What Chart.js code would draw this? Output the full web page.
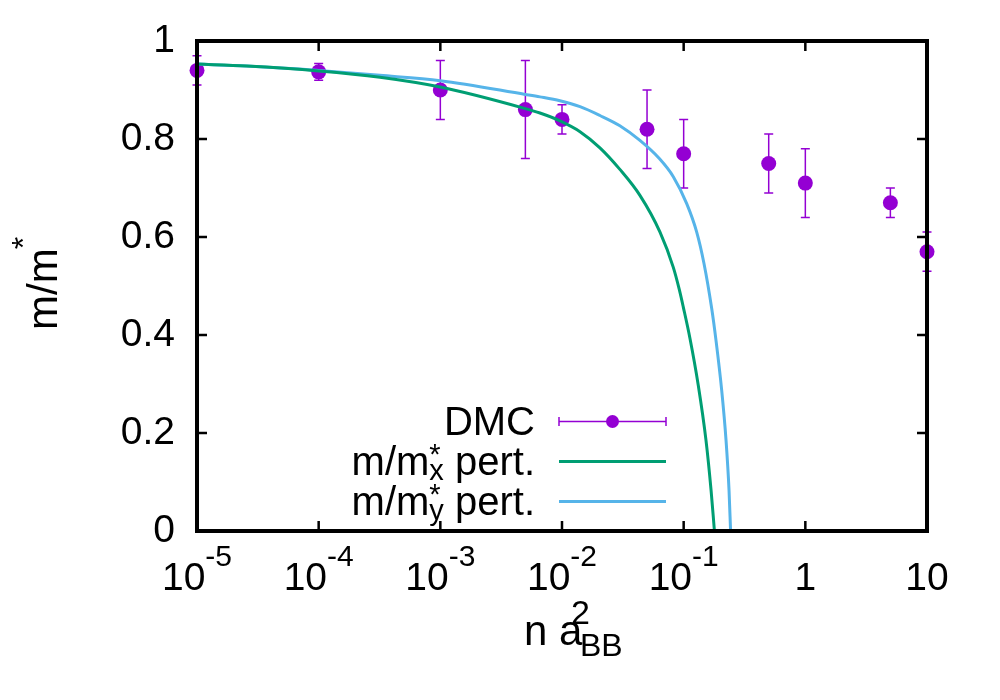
<!DOCTYPE html>
<html><head><meta charset="utf-8">
<script src="https://cdn.jsdelivr.net/npm/chart.js@4.4.1/dist/chart.umd.min.js"></script>
<style>html,body{margin:0;padding:0;background:#fff}#wrap{width:1000px;height:700px;position:relative}</style>
</head><body><div id="wrap"><canvas id="c"></canvas></div>
<script>
// ---- data ----
const dmcX   = [1e-5, 1e-4, 1e-3, 5e-3, 1e-2, 5e-2, 0.1, 0.5, 1, 5, 10];
const dmcY   = [0.94, 0.937, 0.90, 0.86, 0.84, 0.82, 0.77, 0.75, 0.71, 0.67, 0.57];
const dmcErr = [0.03, 0.017, 0.06, 0.10, 0.03, 0.08, 0.07, 0.06, 0.07, 0.03, 0.04];

const pertXx = [1e-5, 2.56e-5, 1e-4, 3.19e-4, 1e-3, 5e-3, 0.00659, 0.00962, 0.01406, 0.0205, 0.0299, 0.0437, 0.0639, 0.0822, 0.0920, 0.0993, 0.1127, 0.1319, 0.1526, 0.168, 0.179];
const pertXy = [0.953, 0.949, 0.939, 0.926, 0.906, 0.862, 0.853, 0.837, 0.815, 0.782, 0.738, 0.685, 0.610, 0.538, 0.493, 0.457, 0.393, 0.297, 0.185, 0.083, 0.0];

const pertYx = [1e-5, 2.56e-5, 1e-4, 3.19e-4, 1e-3, 5e-3, 0.00659, 0.00962, 0.01406, 0.0205, 0.0299, 0.0437, 0.0631, 0.0822, 0.1059, 0.128, 0.1469, 0.170, 0.1844, 0.2054, 0.223, 0.236, 0.243];
const pertYy = [0.953, 0.949, 0.940, 0.930, 0.919, 0.891, 0.886, 0.878, 0.866, 0.848, 0.827, 0.797, 0.760, 0.723, 0.668, 0.610, 0.546, 0.454, 0.389, 0.287, 0.185, 0.083, 0.0];

const xTickValues = [1e-5, 1e-4, 1e-3, 1e-2, 1e-1, 1, 10];
const xTickBase   = ['10', '10', '10', '10', '10', '1', '10'];
const xTickExp    = ['-5', '-4', '-3', '-2', '-1', '', ''];
const yTickValues = [0, 0.2, 0.4, 0.6, 0.8, 1];
const yTickLabels = ['0', '0.2', '0.4', '0.6', '0.8', '1'];

const legendLabels = ['DMC', 'm/m', 'm/m'];

// ---- styles ----
const PURPLE = '#9400d3', GREEN = '#009e73', BLUE = '#56b4e9';
const FF = '"Liberation Sans", Arial, Helvetica, sans-serif';
const TICK_FS = 39, SUP_FS = 30, LEG_FS = 40, LEG_SUB = 29, TITLE_FS = 42, TITLE_SUB = 34;

function pts(xs, ys){ return xs.map((x,i)=>({x:x, y:ys[i]})); }

const gp = {
  id: 'gp',
  beforeDatasetsDraw(chart){
    const ctx = chart.ctx, xs = chart.scales.x, ys = chart.scales.y;
    ctx.save();
    ctx.strokeStyle = PURPLE; ctx.lineWidth = 1.5;
    for (let i = 0; i < dmcX.length; i++){
      const px = xs.getPixelForValue(dmcX[i]);
      const y1 = ys.getPixelForValue(dmcY[i] + dmcErr[i]);
      const y2 = ys.getPixelForValue(dmcY[i] - dmcErr[i]);
      ctx.beginPath();
      ctx.moveTo(px, y1); ctx.lineTo(px, y2);
      ctx.moveTo(px-4.5, y1); ctx.lineTo(px+4.5, y1);
      ctx.moveTo(px-4.5, y2); ctx.lineTo(px+4.5, y2);
      ctx.stroke();
    }
    ctx.restore();
  },
  afterDatasetsDraw(chart){
    const ctx = chart.ctx, xs = chart.scales.x, ys = chart.scales.y, a = chart.chartArea;
    ctx.save();
    // frame
    ctx.strokeStyle = '#000'; ctx.lineWidth = 4; ctx.lineJoin = 'miter';
    ctx.strokeRect(a.left, a.top, a.right - a.left, a.bottom - a.top);
    // ticks
    ctx.lineWidth = 2.5;
    ctx.beginPath();
    xTickValues.forEach(v => {
      const px = xs.getPixelForValue(v);
      ctx.moveTo(px, a.bottom); ctx.lineTo(px, a.bottom - 10);
      ctx.moveTo(px, a.top); ctx.lineTo(px, a.top + 10);
    });
    yTickValues.forEach(v => {
      const py = ys.getPixelForValue(v);
      ctx.moveTo(a.left, py); ctx.lineTo(a.left + 10, py);
      ctx.moveTo(a.right, py); ctx.lineTo(a.right - 10, py);
    });
    ctx.stroke();
    // tick labels
    ctx.fillStyle = '#000';
    ctx.textBaseline = 'alphabetic';
    ctx.textAlign = 'right';
    ctx.font = TICK_FS + 'px ' + FF;
    yTickValues.forEach((v, i) => {
      ctx.fillText(yTickLabels[i], 175, ys.getPixelForValue(v) + 11);
    });
    ctx.textAlign = 'left';
    xTickValues.forEach((v, i) => {
      const px = xs.getPixelForValue(v);
      ctx.font = TICK_FS + 'px ' + FF;
      const wb = ctx.measureText(xTickBase[i]).width;
      ctx.font = SUP_FS + 'px ' + FF;
      const we = xTickExp[i] ? ctx.measureText(xTickExp[i]).width : 0;
      const x0 = px - (wb + we) / 2;
      ctx.font = TICK_FS + 'px ' + FF;
      ctx.fillText(xTickBase[i], x0, 590);
      if (xTickExp[i]) { ctx.font = SUP_FS + 'px ' + FF; ctx.fillText(xTickExp[i], x0 + wb, 566); }
    });
    // x title: n a_BB^2
    ctx.font = TITLE_FS + 'px ' + FF;
    ctx.fillText('n a', 524, 645);
    ctx.font = TITLE_SUB + 'px ' + FF;
    ctx.fillText('2', 571, 624);
    ctx.font = (TITLE_SUB - 2) + 'px ' + FF;
    ctx.fillText('BB', 580, 656);
    // y title: m/m^*
    ctx.save();
    ctx.translate(57, 330);
    ctx.rotate(-Math.PI / 2);
    ctx.font = TITLE_FS + 'px ' + FF;
    ctx.fillText('m/m', 0, 0);
    const wm = ctx.measureText('m/m').width;
    ctx.font = (TITLE_SUB - 2) + 'px ' + FF;
    ctx.fillText('*', wm - 1, -23);
    ctx.restore();
    // legend
    const RX = 535;
    ctx.font = LEG_FS + 'px ' + FF;
    ctx.textAlign = 'right';
    ctx.fillText(legendLabels[0], RX, 435);
    ctx.textAlign = 'left';
    const subs = ['x', 'y'];
    [475, 515].forEach((base, k) => {
      ctx.font = LEG_FS + 'px ' + FF;
      const w1 = ctx.measureText(legendLabels[k+1]).width;
      const w3 = ctx.measureText(' pert.').width;
      ctx.font = LEG_SUB + 'px ' + FF;
      const w2 = Math.max(ctx.measureText(subs[k]).width, ctx.measureText('*').width);
      let x0 = RX - w1 - w2 - w3;
      ctx.font = LEG_FS + 'px ' + FF;
      ctx.fillText(legendLabels[k+1], x0, base);
      ctx.font = LEG_SUB + 'px ' + FF;
      ctx.fillText(subs[k], x0 + w1, base + 5);
      ctx.fillText('*', x0 + w1, base - 11);
      ctx.font = LEG_FS + 'px ' + FF;
      ctx.fillText(' pert.', x0 + w1 + w2, base);
    });
    // legend samples
    const L0 = 559, L1 = 666;
    ctx.strokeStyle = PURPLE; ctx.lineWidth = 1.5;
    ctx.beginPath();
    ctx.moveTo(L0, 421.5); ctx.lineTo(L1, 421.5);
    ctx.moveTo(L0, 417); ctx.lineTo(L0, 426);
    ctx.moveTo(L1, 417); ctx.lineTo(L1, 426);
    ctx.stroke();
    ctx.fillStyle = PURPLE;
    ctx.beginPath(); ctx.arc((L0+L1)/2, 421.5, 6.5, 0, Math.PI*2); ctx.fill();
    ctx.lineWidth = 3;
    ctx.strokeStyle = GREEN;
    ctx.beginPath(); ctx.moveTo(L0, 461.5); ctx.lineTo(L1, 461.5); ctx.stroke();
    ctx.strokeStyle = BLUE;
    ctx.beginPath(); ctx.moveTo(L0, 501.5); ctx.lineTo(L1, 501.5); ctx.stroke();
    ctx.restore();
  }
};

new Chart(document.getElementById('c'), {
  type: 'scatter',
  data: {
    datasets: [
      { label: 'm/m*x pert.', data: pts(pertXx, pertXy), showLine: true, borderColor: GREEN, borderWidth: 3,
        pointRadius: 0, cubicInterpolationMode: 'monotone', order: 1 },
      { label: 'm/m*y pert.', data: pts(pertYx, pertYy), showLine: true, borderColor: BLUE, borderWidth: 3,
        pointRadius: 0, cubicInterpolationMode: 'monotone', order: 2 },
      { label: 'DMC', data: pts(dmcX, dmcY), showLine: false, backgroundColor: PURPLE, borderColor: PURPLE,
        pointRadius: 7.5, pointBorderWidth: 0, clip: false, order: 10 }
    ]
  },
  options: {
    responsive: true, maintainAspectRatio: false, animation: false,
    devicePixelRatio: 1,
    layout: { padding: { left: 197, right: 73, top: 41, bottom: 169 } },
    plugins: { legend: { display: false }, tooltip: { enabled: false } },
    scales: {
      x: { type: 'logarithmic', min: 1e-5, max: 10, display: false },
      y: { type: 'linear', min: 0, max: 1, display: false }
    }
  },
  plugins: [gp]
});
</script>
</body></html>
